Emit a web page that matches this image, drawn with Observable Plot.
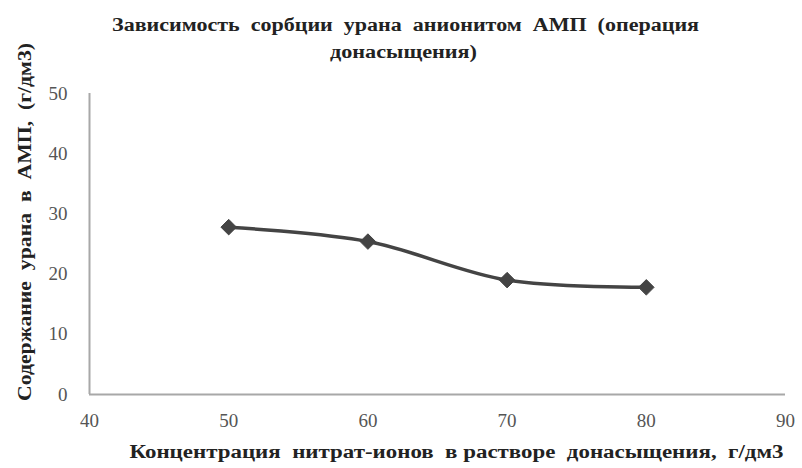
<!DOCTYPE html>
<html><head><meta charset="utf-8">
<script src="https://cdn.jsdelivr.net/npm/d3@7"></script>
<script src="https://cdn.jsdelivr.net/npm/@observablehq/plot@0.6"></script>
<style>
body{margin:0;background:#fff;}
svg text{white-space:pre;}
</style>
</head><body>
<div id="chart"></div>
<script>
const concentration = [50, 60, 70, 80];
const uranium = [27.8, 25.4, 19.0, 17.8];
const xTicks = [40, 50, 60, 70, 80, 90];
const yTicks = [0, 10, 20, 30, 40, 50];
const titleLines = ["Зависимость  сорбции  урана  анионитом  АМП  (операция", "донасыщения)"];
const xLabel = "Концентрация  нитрат-ионов  в растворе  донасыщения,  г/дм3";
const yLabel = "Содержание  урана  в  АМП,  (г/дм3)";

const data = concentration.map((c, i) => ({x: c, y: uranium[i]}));
const serif = "'Liberation Serif', 'DejaVu Serif', serif";

const plot = Plot.plot({
  width: 802, height: 468,
  marginLeft: 89, marginRight: 17, marginTop: 93, marginBottom: 74,
  style: {fontFamily: serif, background: "#fff", overflow: "visible"},
  x: {domain: [40, 90]},
  y: {domain: [0, 50]},
  marks: [
    Plot.ruleY([0], {stroke: "#a8a8a8", strokeWidth: 2}),
    Plot.ruleX([40], {stroke: "#a8a8a8", strokeWidth: 2}),
    Plot.axisX({ticks: xTicks, tickSize: 0, tickPadding: 19, fontSize: 19, fill: "#555", label: null}),
    Plot.axisY({ticks: yTicks, tickSize: 0, tickPadding: 22, fontSize: 19, fill: "#555", label: null}),
    Plot.line(data, {x: "x", y: "y", stroke: "#444", strokeWidth: 3.5, curve: "catmull-rom"}),
    Plot.dot(data, {x: "x", y: "y", symbol: "diamond2", r: 7, fill: "#444", stroke: "#444", strokeWidth: 1}),
    Plot.text([titleLines[0]], {frameAnchor: "top", textAnchor: "middle", lineAnchor: "middle", dx: -32, dy: -68, fontSize: 18, fontWeight: "bold", fill: "#222"}),
    Plot.text([titleLines[1]], {frameAnchor: "top", textAnchor: "middle", lineAnchor: "middle", dx: -34, dy: -41, fontSize: 18, fontWeight: "bold", fill: "#222"}),
    Plot.text([xLabel], {frameAnchor: "bottom", textAnchor: "middle", lineAnchor: "middle", dx: 19, dy: 58, fontSize: 18, fontWeight: "bold", fill: "#222"}),
    Plot.text([yLabel], {frameAnchor: "left", textAnchor: "middle", lineAnchor: "middle", dx: -64, dy: -22, rotate: -90, fontSize: 18, fontWeight: "bold", fill: "#222"})
  ]
});
document.getElementById("chart").appendChild(plot);

// stretch texts horizontally as in the reference image
const lengths = new Map([[titleLines[0], 587], [titleLines[1], 147], [xLabel, 654], [yLabel, 358]]);
d3.select(plot).selectAll("text").each(function() {
  const t = this.textContent;
  if (lengths.has(t)) {
    this.setAttribute("textLength", lengths.get(t));
    this.setAttribute("lengthAdjust", "spacingAndGlyphs");
  }
});
</script>
</body></html>
